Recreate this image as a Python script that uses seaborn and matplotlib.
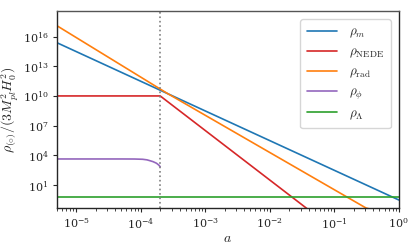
import numpy as np
import pandas as pd
import matplotlib
matplotlib.use("Agg")
import matplotlib.pyplot as plt
import seaborn as sns

# values (a, rho) for each component
a_m = [5e-6, 1.0]
rho_m = [2.4e15, 0.31]

a_nede = [5e-6, 2e-4, 0.05]
rho_nede = [1.0e10, 1.0e10, 0.0102]

a_rad = [5e-6, 2.6e-4, 0.31, 1.0]
rho_rad = [1.25e17, 1.75e10, 0.048, 0.0059]

a_phi = [5e-6, 5e-5, 8e-5, 1.07e-4, 1.25e-4, 1.38e-4, 1.55e-4, 1.75e-4, 1.9e-4, 2e-4]
rho_phi = [4300, 4300, 4250, 4000, 3500, 2900, 2300, 1600, 1050, 700]

a_lam = [5e-6, 1.0]
rho_lam = [0.69, 0.69]

a_transition = 2e-4

labels = [r"$\rho_m$", r"$\rho_{\rm NEDE}$", r"$\rho_{\rm rad}$", r"$\rho_\phi$", r"$\rho_\Lambda$"]
colors = ["#1f77b4", "#d62728", "#ff7f0e", "#9467bd", "#2ca02c"]

#building long-form table for seaborn
series = [(a_m, rho_m), (a_nede, rho_nede), (a_rad, rho_rad), (a_phi, rho_phi), (a_lam, rho_lam)]
frames = []
for lab, (xs, ys) in zip(labels, series):
    frames.append(pd.DataFrame({"a": xs, "rho": ys, "component": lab}))
df = pd.concat(frames, ignore_index=True)

sns.set_style("ticks")
plt.rcParams["mathtext.fontset"] = "cm"
plt.rcParams["font.family"] = ["DejaVu Serif"]

fig = plt.figure(figsize=(4.15, 2.5), dpi=100)
ax = fig.add_axes([0.137, 0.168, 0.824, 0.788])

sns.lineplot(data=df, x="a", y="rho", hue="component", palette=colors,
             estimator=None, sort=False, linewidth=1.2, ax=ax)

ax.axvline(a_transition, color="grey", linestyle=":", linewidth=1.2)

ax.set_xscale("log")
ax.set_yscale("log")
ax.set_xlim(5e-6, 1.0)
ax.set_ylim(0.048, 3.8e18)
ax.set_yticks([1e1, 1e4, 1e7, 1e10, 1e13, 1e16])
ax.tick_params(labelsize=8, length=3, pad=3)
ax.tick_params(which="minor", length=1.8)

ax.set_xlabel(r"$a$", fontsize=10, labelpad=0)
ax.set_ylabel(r"$\rho_{(\circ)}/(3M_{pl}^2H_0^2)$", fontsize=10, labelpad=1)

ax.legend(loc="upper right", fontsize=9.5, handlelength=2.3, labelspacing=0.4,
          handletextpad=0.9, borderpad=0.5, borderaxespad=0.6)

for sp in ax.spines.values():
    sp.set_linewidth(1.0)
ax.spines["top"].set_color("#555555")

fig.savefig("out.png", dpi=100)
